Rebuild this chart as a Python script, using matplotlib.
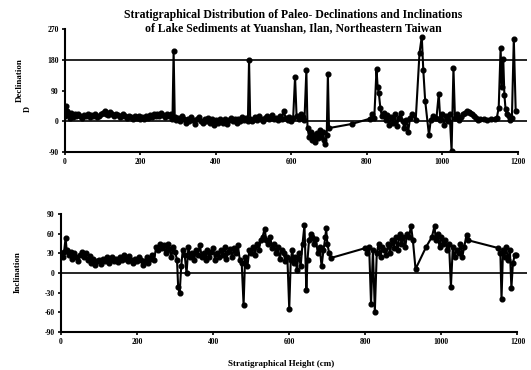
import matplotlib
matplotlib.use("Agg")
import matplotlib.pyplot as plt

title_lines = ["Stratigraphical Distribution of Paleo- Declinations and Inclinations",
               "of Lake Sediments at Yuanshan, Ilan, Northeastern Taiwan"]
x_ticks = [0, 200, 400, 600, 800, 1000, 1200]
decl_ticks = [-90, 0, 90, 180, 270]
incl_ticks = [-90, -60, -30, 0, 30, 60, 90]

decl_h = [0, 3, 6, 9, 12, 15, 18, 22, 26, 30, 35, 40, 45, 50, 55, 60, 65, 70, 75, 80,
          85, 90, 95, 100, 105, 110, 115, 120, 125, 130, 135, 140, 145, 150, 155, 160,
          165, 170, 175, 180, 185, 190, 195, 200, 205, 210, 215, 220, 225, 230, 235,
          240, 245, 250, 255, 260, 265, 270, 275, 280, 285, 288, 291, 295, 300, 305,
          310, 315, 320, 325, 330, 335, 340, 345, 350, 355, 360, 365, 370, 375, 380,
          385, 390, 395, 400, 405, 410, 415, 420, 425, 430, 435, 440, 445, 450, 455,
          460, 465, 470, 475, 480, 485, 488, 491, 495, 500, 505, 510, 515, 520, 525,
          530, 535, 540, 545, 550, 555, 560, 565, 570, 575, 580, 585, 590, 595, 600,
          605, 610, 614, 620, 625, 630, 635, 640, 643, 647, 651, 655, 659, 663, 667,
          671, 675, 679, 683, 687, 690, 694, 697, 700, 760, 810, 815, 820, 826, 829,
          832, 836, 840, 845, 850, 855, 860, 865, 870, 875, 880, 885, 890, 895, 900,
          905, 910, 915, 920, 930, 940, 946, 950, 955, 965, 970, 975, 985, 991, 995,
          1000, 1005, 1010, 1015, 1020, 1025, 1030, 1034, 1040, 1045, 1050, 1055, 1060,
          1065, 1070, 1075, 1080, 1085, 1090, 1095, 1100, 1110, 1120, 1130, 1140, 1145,
          1150, 1155, 1158, 1162, 1165, 1168, 1172, 1176, 1180, 1185, 1190, 1195]
decl_v = [15, 45, 30, 20, 10, 25, 18, 12, 20, 14, 22, 16, 10, 18, 15, 20, 12, 18, 14, 22,
          12, 16, 20, 25, 30, 22, 18, 26, 20, 15, 22, 18, 12, 16, 20, 14,
          10, 16, 12, 8, 14, 10, 16, 6, 12, 8, 14, 10, 18, 12, 20,
          14, 22, 16, 24, 18, 12, 20, 14, 22, 8, 205, 12, 5, 10, 2,
          14, 6, -5, 8, 0, 12, 4, -8, 6, 12, 2, -6, 8, 0, 10,
          -4, 6, -10, 4, -6, 8, 2, -4, 6, -8, 4, 10, 0, 6, -4,
          8, 2, 12, 4, 10, 2, 180, 8, 0, 6, 12, 4, 14, 8, 2,
          10, 16, 8, 12, 18, 6, 10, 4, 14, 8, 30, 10, 5, 12, 2,
          10, 130, 15, 8, 20, 12, 5, 150, -20, -45, -30, -55, -40, -60, -35,
          -50, -25, -45, -30, -55, -68, -40, 137, -20, -8, 8, 20, 10, 152, 100,
          84, 40, 15, 25, 5, 18, -10, 12, -5, 20, -15, 10, 25, 0, -20,
          5, -30, 10, 20, 5, 200, 248, 150, 60, -40, 5, 15, 10, 80, 5,
          20, -10, 15, 0, 20, -87, 155, 10, 20, 5, 12, 20, 25,
          30, 28, 25, 20, 15, 10, 5, 8, 6, 5, 7, 6, 10,
          40, 214, 100, 183, 78, 37, 20, 15, 5, 10, 242, 31]

incl_h = [0, 5, 8, 12, 15, 20, 25, 30, 35, 40, 45, 50, 55, 60, 65, 70, 75, 80, 85, 90,
          95, 100, 105, 110, 115, 120, 125, 130, 135, 140, 145, 150, 155, 160, 165, 170,
          175, 180, 185, 190, 195, 200, 205, 210, 215, 220, 225, 230, 235, 240, 245,
          250, 255, 260, 265, 270, 275, 280, 285, 290, 295, 300, 305, 308, 312, 316,
          320, 325, 330, 335, 340, 345, 350, 355, 360, 365, 370, 375, 380, 385, 390,
          395, 400, 405, 410, 415, 420, 425, 430, 435, 440, 445, 450, 455, 460, 465,
          470, 475, 480, 484, 490, 495, 500, 505, 510, 515, 520, 525, 530, 535, 540,
          545, 550, 555, 560, 565, 570, 575, 580, 585, 590, 595, 600, 604, 608, 612,
          616, 620, 625, 630, 635, 640, 645, 648, 652, 656, 660, 665, 670, 675, 680,
          685, 690, 695, 697, 700, 705, 710, 800, 805, 810, 815, 820, 825, 830, 835,
          840, 845, 850, 855, 860, 865, 870, 875, 880, 885, 890, 895, 900, 905, 910,
          915, 920, 925, 932, 960, 975, 982, 985, 990, 995, 1000, 1005, 1010, 1015,
          1020, 1025, 1030, 1035, 1040, 1045, 1050, 1055, 1060, 1066, 1070, 1150, 1155,
          1158, 1162, 1166, 1170, 1175, 1180, 1184, 1188, 1193, 1197]
incl_v = [30, 25, 32, 53, 35, 28, 32, 22, 30, 25, 18, 28, 32, 24, 30, 20, 26, 15, 22, 12,
          18, 20, 14, 22, 18, 25, 16, 20, 24, 18, 22, 17, 25, 20, 28, 22,
          18, 26, 20, 15, 22, 18, 25, 20, 12, 18, 24, 16, 22, 28, 20,
          40, 35, 45, 38, 42, 30, 44, 36, 25, 40, 32, 20, -22, -30, 10,
          35, 28, 0, 40, 25, 30, 20, 35, 28, 42, 25, 30, 20, 35, 25,
          32, 38, 20, 30, 25, 35, 28, 40, 22, 32, 36, 25, 38, 30, 42,
          20, 15, -49, 25, 10, 35, 30, 40, 28, 45, 35, 50, 55, 67, 50,
          45, 55, 38, 45, 30, 40, 22, 35, 30, 18, 25, -55, 20, 35, 15,
          25, 5, 30, 10, 45, 73, -26, 20, 50, 60, 55, 45, 52, 30, 40,
          10, 35, 55, 68, 45, 30, 23, 38, 30, 40, -47, 35, -59, 30, 45,
          25, 40, 35, 28, 45, 30, 50, 38, 55, 35, 60, 45, 55, 40, 60,
          55, 72, 50, 6, 40, 55, 72, 50, 60, 40, 55, 45, 50, 35,
          45, -21, 40, 25, 35, 30, 45, 25, 40, 58, 50, 38, 30,
          -40, 35, 25, 40, 20, 35, -23, 15, 28, 27]

plt.rcParams['font.family'] = ['Liberation Serif', 'DejaVu Serif']
W, H = 531, 370
fig = plt.figure(figsize=(W / 100, H / 100), dpi=100)

ax1 = fig.add_axes([65 / W, 1 - 152 / H, 462 / W, 123 / H])
ax2 = fig.add_axes([61 / W, 1 - 332 / H, 466 / W, 118 / H])

style = dict(color='black', lw=1.5, marker='o', ms=3.4, mfc='black', mec='black')
ax1.plot(decl_h, decl_v, **style)
ax2.plot(incl_h, incl_v, **style)

ax1.axhline(180, color='black', lw=1.2)
ax1.axhline(0, color='black', lw=1.2)
ax2.axhline(0, color='black', lw=1.2)

for ax, yt in ((ax1, decl_ticks), (ax2, incl_ticks)):
    ax.set_xlim(0, 1225)
    ax.set_ylim(yt[0], yt[-1])
    ax.set_xticks(x_ticks)
    ax.set_yticks(yt)
    ax.set_xticklabels([str(t) for t in x_ticks], fontsize=5.5, fontweight='bold')
    ax.set_yticklabels([str(t) for t in yt], fontsize=5.5, fontweight='bold')
    ax.spines['top'].set_visible(False)
    ax.spines['right'].set_visible(False)
    ax.spines['left'].set_linewidth(1.5)
    ax.spines['bottom'].set_linewidth(1.5)
    ax.spines['bottom'].set_bounds(0, 1200)
    ax.tick_params(direction='out', length=2.5, width=1.2, pad=2)

fig.text(20 / W, 1 - 80 / H, "Declination", fontsize=6.5, fontweight='bold',
         rotation=90, ha='center', va='center')
fig.text(28 / W, 1 - 109 / H, "D", fontsize=6, fontweight='bold', rotation=90,
         ha='center', va='center')
fig.text(18 / W, 1 - 272 / H, "Inclination", fontsize=6.5, fontweight='bold',
         rotation=90, ha='center', va='center')
fig.text(281 / W, 1 - 364 / H, "Stratigraphical Height (cm)", fontsize=6.5,
         fontweight='bold', ha='center', va='center')

fig.text(293 / W, 1 - 15 / H, title_lines[0], fontsize=8.5, fontweight='bold',
         ha='center', va='center')
fig.text(293 / W, 1 - 28 / H, title_lines[1], fontsize=8.5, fontweight='bold',
         ha='center', va='center')

fig.savefig("out.png", dpi=100)
